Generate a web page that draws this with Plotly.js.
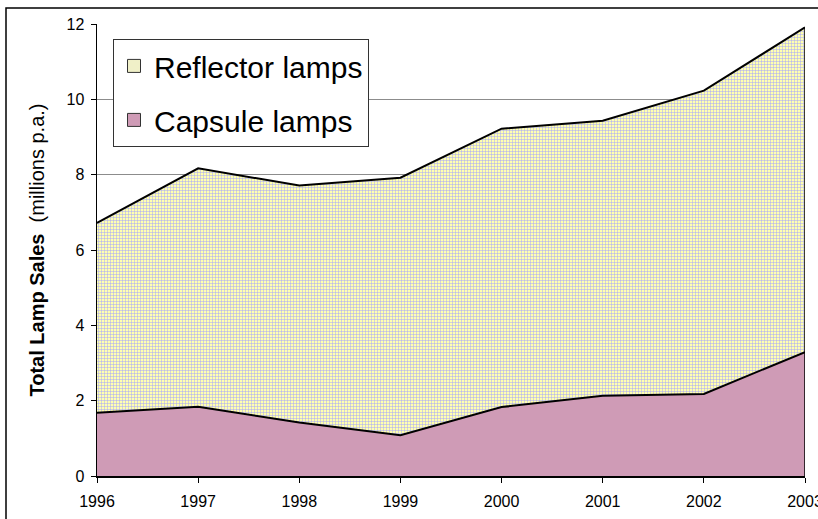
<!DOCTYPE html>
<html>
<head>
<meta charset="utf-8">
<script src="https://cdn.plot.ly/plotly-3.0.1.min.js"></script>
<style>
html,body{margin:0;padding:0;background:#fff;}
#chart{width:818px;height:519px;}
</style>
</head>
<body>
<div id="chart"></div>
<script>
const years = [1996, 1997, 1998, 1999, 2000, 2001, 2002, 2003];
const capsuleLamps = [1.68, 1.84, 1.42, 1.08, 1.83, 2.13, 2.18, 3.29];
const reflectorLamps = [5.04, 6.33, 6.29, 6.84, 7.39, 7.30, 8.05, 8.62];
const yTicks = [0, 2, 4, 6, 8, 10, 12];

const totals = years.map((_, i) => capsuleLamps[i] + reflectorLamps[i]);
const lastYear = years[years.length - 1];
const lastTotal = totals[totals.length - 1];

const capsuleColor = '#cf9bb6';
const reflectorBg = '#ffffb0';

const traces = [
  {
    x: years, y: capsuleLamps, name: 'Capsule lamps',
    type: 'scatter', mode: 'lines', stackgroup: 'one', showlegend: false,
    line: {color: '#000000', width: 2},
    fillcolor: capsuleColor
  },
  {
    x: years, y: reflectorLamps, name: 'Reflector lamps',
    type: 'scatter', mode: 'lines', stackgroup: 'one', showlegend: false,
    line: {color: '#000000', width: 2},
    fillcolor: reflectorBg,
    fillpattern: {shape: '+', bgcolor: reflectorBg, fgcolor: '#a4a4fc', size: 3, solidity: 0.3}
  },
  {
    x: [lastYear, lastYear], y: [0, lastTotal],
    type: 'scatter', mode: 'lines', showlegend: false, hoverinfo: 'skip',
    line: {color: '#000000', width: 1.5}
  },
  {
    x: [null], y: [null], name: 'Reflector lamps', legendgroup: 'r',
    type: 'scatter', mode: 'markers',
    marker: {symbol: 'square', size: 13, color: '#f0f0c8', line: {color: '#333333', width: 1}}
  },
  {
    x: [null], y: [null], name: 'Capsule lamps', legendgroup: 'c',
    type: 'scatter', mode: 'markers',
    marker: {symbol: 'square', size: 13, color: capsuleColor, line: {color: '#333333', width: 1}}
  }
];

const layout = {
  width: 818, height: 519,
  margin: {l: 97, r: 13, t: 24, b: 43},
  paper_bgcolor: '#ffffff', plot_bgcolor: '#ffffff',
  font: {family: 'Liberation Sans, Arial, sans-serif', color: '#000000', size: 16},
  showlegend: true,
  legend: {
    x: 0.0226, y: 0.967, xanchor: 'left', yanchor: 'top',
    traceorder: 'grouped',
    bgcolor: '#ffffff', bordercolor: '#333333', borderwidth: 1,
    font: {size: 30, family: 'Liberation Sans, Arial, sans-serif'},
    tracegroupgap: 12,
    itemwidth: 30
  },
  xaxis: {
    range: [1996, 2003], tickvals: years, ticktext: years.map(String),
    showgrid: false, zeroline: false,
    showline: true, linecolor: '#000000', linewidth: 1.5,
    ticks: 'outside', ticklen: 5, tickcolor: '#000000',
    tickfont: {size: 16}, ticklabeloverflow: 'allow', ticklabelstandoff: 5
  },
  yaxis: {
    range: [0, 12], tickvals: yTicks,
    showgrid: true, gridcolor: '#8c8c8c', gridwidth: 1,
    zeroline: false,
    showline: true, linecolor: '#000000', linewidth: 1.5,
    ticks: 'outside', ticklen: 5, tickcolor: '#000000',
    tickfont: {size: 16}, ticklabelstandoff: 3,
    title: {text: '<b>Total Lamp Sales</b>  (millions p.a.)', font: {size: 20}, standoff: 16}
  },
  shapes: [
    {type: 'rect', xref: 'paper', yref: 'paper',
     x0: (6 - 97) / 708, x1: 1.3, y0: -0.3, y1: (476 - 8) / 452,
     line: {color: '#000000', width: 1.5}, fillcolor: 'rgba(0,0,0,0)', layer: 'below'}
  ]
};

Plotly.newPlot('chart', traces, layout, {displayModeBar: false, staticPlot: true});
</script>
</body>
</html>
